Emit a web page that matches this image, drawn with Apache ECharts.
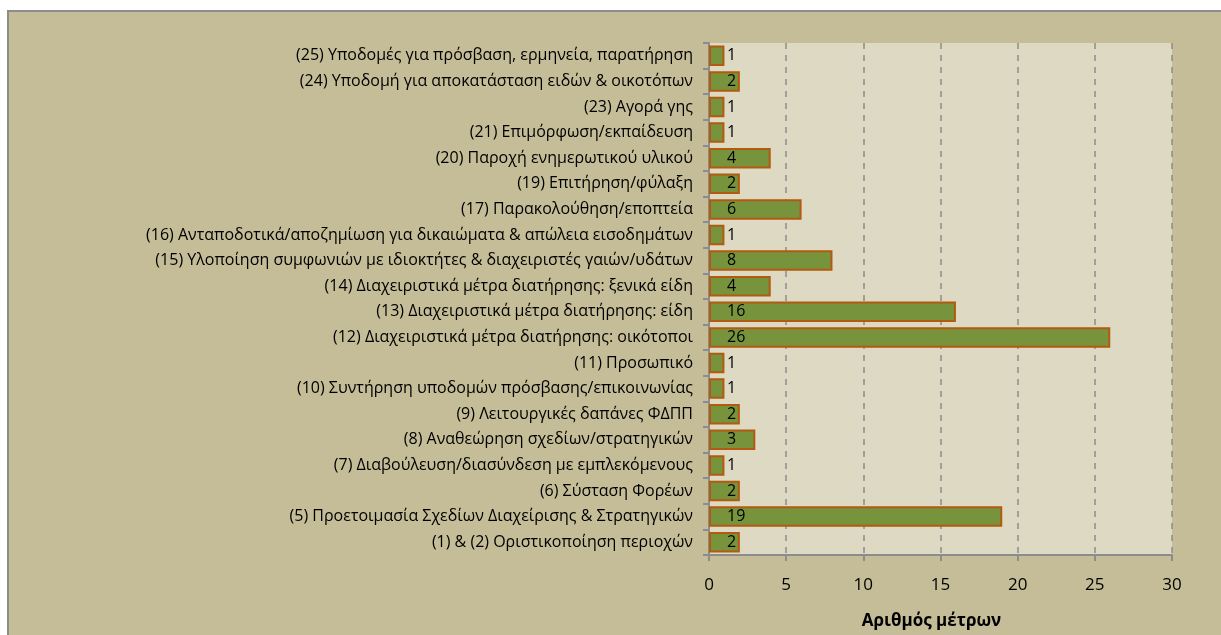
<!DOCTYPE html>
<html>
<head>
<meta charset="utf-8">
<script src="https://cdn.jsdelivr.net/npm/echarts@6/dist/echarts.min.js"></script>
<style>
  html, body { margin: 0; padding: 0; background: #fff; }
  .frame {
    position: absolute; left: 7px; top: 10px; width: 1220px; height: 630px;
    background: #c4bd97; border-left: 2px solid #8c8c8c; border-top: 2px solid #8c8c8c;
  }
  .view01 { position: absolute; left: 0; top: 0; width: 1221px; height: 635px; }
</style>
</head>
<body>
<div class="frame"></div>
<div class="view01"></div>
<script>
// κατηγορίες (από κάτω προς τα πάνω)
const categories = [
  '(1) & (2) Οριστικοποίηση περιοχών',
  '(5) Προετοιμασία Σχεδίων Διαχείρισης & Στρατηγικών',
  '(6) Σύσταση Φορέων',
  '(7) Διαβούλευση/διασύνδεση με εμπλεκόμενους',
  '(8) Αναθεώρηση σχεδίων/στρατηγικών',
  '(9) Λειτουργικές δαπάνες ΦΔΠΠ',
  '(10) Συντήρηση υποδομών πρόσβασης/επικοινωνίας',
  '(11) Προσωπικό',
  '(12) Διαχειριστικά μέτρα διατήρησης: οικότοποι',
  '(13) Διαχειριστικά μέτρα διατήρησης: είδη',
  '(14) Διαχειριστικά μέτρα διατήρησης: ξενικά είδη',
  '(15) Υλοποίηση συμφωνιών με ιδιοκτήτες & διαχειριστές γαιών/υδάτων',
  '(16) Ανταποδοτικά/αποζημίωση για δικαιώματα & απώλεια εισοδημάτων',
  '(17) Παρακολούθηση/εποπτεία',
  '(19) Επιτήρηση/φύλαξη',
  '(20) Παροχή ενημερωτικού υλικού',
  '(21) Επιμόρφωση/εκπαίδευση',
  '(23) Αγορά γης',
  '(24) Υποδομή για αποκατάσταση ειδών & οικοτόπων',
  '(25) Υποδομές για πρόσβαση, ερμηνεία, παρατήρηση'
];
const values = [2, 19, 2, 1, 3, 2, 1, 1, 26, 16, 4, 8, 1, 6, 2, 4, 1, 1, 2, 1];
const xTicks = [0, 5, 10, 15, 20, 25, 30];
const axisTitle = 'Αριθμός μέτρων';

window.onload = function () {
  let chart1 = echarts.init(document.querySelector('.view01'));
  let font = '"Open Sans", "Noto Sans", sans-serif';
  let option1 = {
    backgroundColor: 'transparent',
    textStyle: { fontFamily: font },
    grid: {
      left: 709, right: 49, top: 43, bottom: 79,
      show: true, backgroundColor: '#ddd9c3', borderWidth: 0
    },
    xAxis: {
      type: 'value',
      min: xTicks[0],
      max: xTicks[xTicks.length - 1],
      interval: 5,
      name: axisTitle,
      nameLocation: 'middle',
      nameGap: 58,
      nameTextStyle: { fontFamily: font, fontWeight: 'bold', fontSize: 17, color: '#000', padding: [0, 18, 0, 0] },
      axisLine: { show: true, lineStyle: { color: '#8c8c8c', width: 2 } },
      axisTick: { show: true, length: 6, lineStyle: { color: '#8c8c8c', width: 2 } },
      axisLabel: { color: '#000', fontSize: 17, margin: 22, fontFamily: font },
      splitLine: { show: true, lineStyle: { color: '#8c8c8c', width: 1.5, type: [6, 6] } }
    },
    yAxis: {
      type: 'category',
      data: categories,
      axisLine: { show: true, lineStyle: { color: '#8c8c8c', width: 2 } },
      axisTick: { show: true, length: 6, lineStyle: { color: '#8c8c8c', width: 2 } },
      axisLabel: { color: '#000', fontSize: 16, margin: 16, fontFamily: font },
      splitLine: { show: false }
    },
    series: [
      {
        type: 'bar',
        data: values,
        barCategoryGap: '20%',
        itemStyle: { color: '#77933c', borderColor: '#b35a10', borderWidth: 2 },
        label: {
          show: true,
          position: 'insideLeft',
          distance: 18,
          color: '#000',
          fontSize: 16,
          fontFamily: font
        }
      }
    ]
  };
  chart1.setOption(option1);
};
</script>
</body>
</html>
